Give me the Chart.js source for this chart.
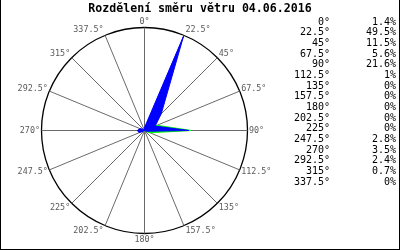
<!DOCTYPE html>
<html><head><meta charset="utf-8">
<script src="https://cdn.jsdelivr.net/npm/chart.js@4"></script>
<style>
html,body{margin:0;padding:0;background:#fff;}
#wrap{position:relative;width:400px;height:250px;overflow:hidden;background:#fff;}
#c{position:absolute;left:0;top:0;}
#frame{position:absolute;left:0;top:0;width:400px;height:250px;box-sizing:border-box;border:1px solid #000;border-top:none;pointer-events:none;}
#legend{position:absolute;left:290px;top:16.5px;font-family:'DejaVu Sans Mono',monospace;font-size:10px;line-height:10.7px;color:#000;}
.row{display:flex;white-space:pre;height:10.7px;}
.a{width:40px;text-align:right;}
.v{width:66px;text-align:right;}
</style></head><body>
<div id="wrap"><canvas id="c" width="400" height="250"></canvas><div id="legend"></div><div id="frame"></div></div>
<script>
const titleText = 'Rozdělení směru větru 04.06.2016';
const directions = ['0°','22.5°','45°','67.5°','90°','112.5°','135°','157.5°','180°','202.5°','225°','247.5°','270°','292.5°','315°','337.5°'];
const share = [1.4, 49.5, 11.5, 5.6, 21.6, 1, 0, 0, 0, 0, 0, 2.8, 3.5, 2.4, 0.7, 0];
const greenShare = [0, 0, 0, 6.5, 22.8, 2.8, 0, 0, 0, 0, 0, 0, 0, 0, 0, 0];
const scaleMax = 50;

// legend table
const legend = document.getElementById('legend');
directions.forEach((d, i) => {
  const row = document.createElement('div');
  row.className = 'row';
  const a = document.createElement('span'); a.className = 'a'; a.textContent = d;
  const v = document.createElement('span'); v.className = 'v'; v.textContent = share[i] + '%';
  row.appendChild(a); row.appendChild(v);
  legend.appendChild(row);
});

const CX = 144.5, CY = 130.5, RAD = 103;
function placeScale(scale) {
  scale.xCenter = CX; scale.yCenter = CY; scale.drawingArea = RAD;
  (scale._pointLabelItems || []).forEach((it, i) => {
    const a = scale.getIndexAngle(i);           // 0 at top, clockwise
    const s = Math.sin(a), c = Math.cos(a);
    const w = it.right - it.left, h = it.bottom - it.top;
    const cy = CY - (RAD + 6) * c;              // vertical centre of the label
    let x, left;
    if (Math.abs(s) < 1e-6) { x = CX; left = x - w / 2; }
    else if (s > 0) { x = CX + RAD * s + 1.5; left = x; }
    else { x = CX + RAD * s - 1.5; left = x - w; }
    it.x = x; it.y = cy - h / 2;
    it.left = left; it.right = left + w; it.top = cy - h / 2; it.bottom = cy + h / 2;
  });
}

new Chart(document.getElementById('c'), {
  type: 'radar',
  data: {
    labels: directions,
    datasets: [
      {
        label: 'blue',
        data: share,
        backgroundColor: '#0000ff',
        borderColor: '#0000ff',
        borderWidth: 1,
        fill: true,
        pointRadius: 0,
        tension: 0,
        clip: false,
        order: 1
      },
      {
        label: 'green',
        data: greenShare,
        backgroundColor: '#00ff00',
        borderColor: '#00ff00',
        borderWidth: 1.2,
        fill: true,
        pointRadius: 0,
        tension: 0,
        clip: false,
        order: 2
      }
    ]
  },
  options: {
    responsive: false,
    animation: false,
    devicePixelRatio: 1,
    plugins: {
      legend: { display: false },
      tooltip: { enabled: false },
      title: {
        display: true,
        text: titleText,
        color: '#000',
        font: { family: 'DejaVu Sans Mono', size: 11.6, weight: 'bold' },
        padding: { top: 2.5, bottom: 4 }
      }
    },
    scales: {
      r: {
        min: 0,
        max: scaleMax,
        startAngle: 0,
        ticks: { display: false, stepSize: scaleMax },
        grid: { circular: true, color: '#000', lineWidth: 1.3 },
        angleLines: { display: true, color: '#6a6a6a', lineWidth: 1 },
        pointLabels: {
          display: true,
          color: '#5a5a5a',
          padding: 2,
          font: { family: 'DejaVu Sans Mono', size: 8.4 }
        },
        afterFit: placeScale
      }
    }
  }
});
</script>
</body></html>
